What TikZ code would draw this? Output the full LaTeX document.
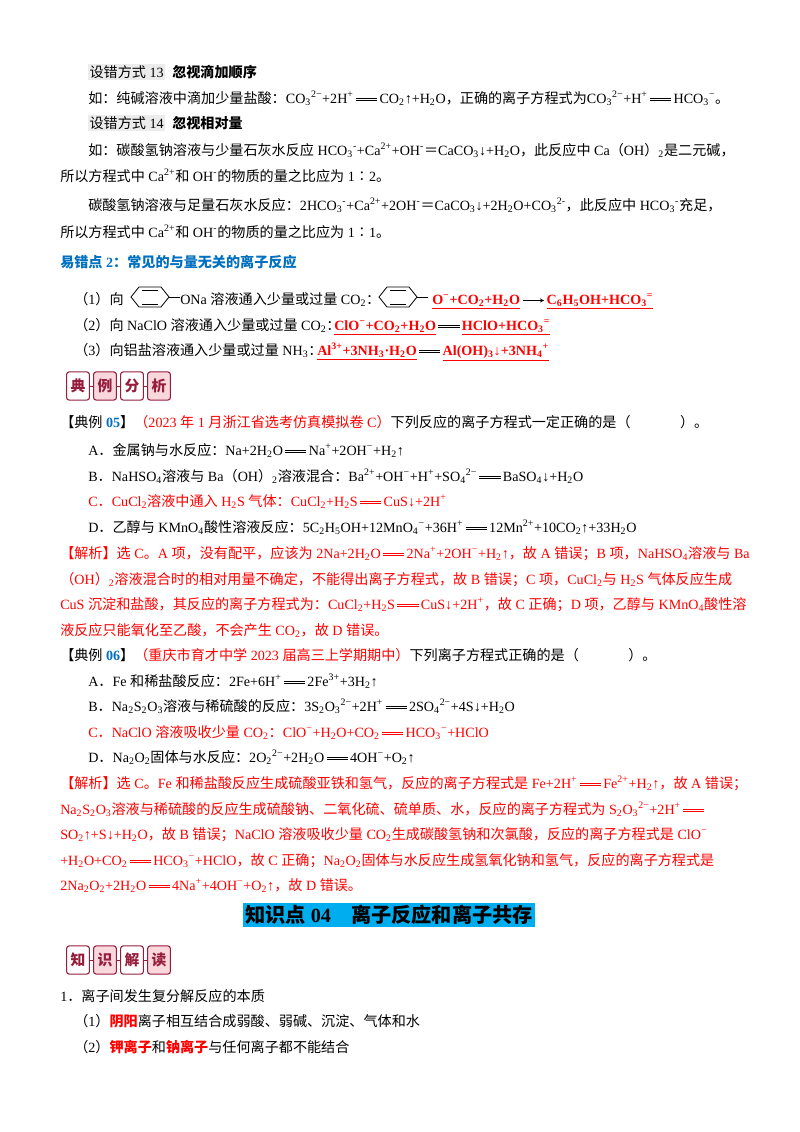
\documentclass[tikz,border=0pt]{standalone}
\usepackage{fontspec}
\setmainfont{Liberation Serif}
\newfontfamily\cjk{Noto Sans CJK SC}
\XeTeXinterchartokenstate=1
\newXeTeXintercharclass\cjkcls
\makeatletter
\count@="4E00 \loop\ifnum\count@<"A000 \XeTeXcharclass\count@=\cjkcls \advance\count@ 1 \repeat
\count@="3000 \loop\ifnum\count@<"3040 \XeTeXcharclass\count@=\cjkcls \advance\count@ 1 \repeat
\count@="FF00 \loop\ifnum\count@<"FFF0 \XeTeXcharclass\count@=\cjkcls \advance\count@ 1 \repeat
\XeTeXcharclass"2236=\cjkcls
\makeatother
\XeTeXinterchartoks 0 \cjkcls = {\begingroup\cjk}
\XeTeXinterchartoks 4095 \cjkcls = {\begingroup\cjk}
\XeTeXinterchartoks \cjkcls 0 = {\endgroup}
\XeTeXinterchartoks \cjkcls 4095 = {\endgroup}
\definecolor{hblue}{RGB}{0,112,192}
\definecolor{bdr}{RGB}{150,30,60}
\definecolor{bpink}{RGB}{250,215,220}
\newcommand\up[1]{\textsuperscript{#1}}
\newcommand\dn[1]{\textsubscript{#1}}
\newcommand\eqd{\,\raisebox{0.3ex}{\vbox{\hrule width1.5em height0.5pt\vskip1.5pt\hrule height0.5pt}}\,}
\tikzset{ln/.style={anchor=base west,inner sep=0pt,font=\fontsize{10.5}{12}\selectfont},
 badge/.style={draw=bdr,line width=0.8pt,rounded corners=2pt,minimum width=17pt,minimum height=21pt,inner sep=0pt,text=bdr,font=\fontsize{11}{12}\selectfont\bfseries}}
\begin{document}
\begin{tikzpicture}[x=0.744pt,y=-0.744pt]
\useasboundingbox[fill=white] (0,0) rectangle (800,1132);
\node[ln,fill=gray!15,inner sep=1pt] (h13) at (88,77) {设错方式 13};
\node[ln,font=\fontsize{10.5}{12}\selectfont\bfseries] (h13b) at (172,77) {忽视滴加顺序};
\node[ln] (l1) at (88,103) {如：纯碱溶液中滴加少量盐酸：CO\dn{3}\up{2−}+2H\up{+}\eqd CO\dn{2}↑+H\dn{2}O，正确的离子方程式为CO\dn{3}\up{2−}+H\up{+}\eqd HCO\dn{3}\up{−}。};
\node[ln,fill=gray!15,inner sep=1pt] (h14) at (88,128) {设错方式 14};
\node[ln,font=\fontsize{10.5}{12}\selectfont\bfseries] (h14b) at (172,128) {忽视相对量};
\node[ln] (l2) at (88,155) {如：碳酸氢钠溶液与少量石灰水反应 HCO\dn{3}\up{-}+Ca\up{2+}+OH\up{-}＝CaCO\dn{3}↓+H\dn{2}O，此反应中 Ca（OH）\dn{2}是二元碱，};
\node[ln] (l3) at (60,181) {所以方程式中 Ca\up{2+}和 OH\up{-}的物质的量之比应为 1∶2。};
\node[ln] (l4) at (88,210) {碳酸氢钠溶液与足量石灰水反应：2HCO\dn{3}\up{-}+Ca\up{2+}+2OH\up{-}＝CaCO\dn{3}↓+2H\dn{2}O+CO\dn{3}\up{2-}，此反应中 HCO\dn{3}\up{-}充足，};
\node[ln] (l5) at (60,237) {所以方程式中 Ca\up{2+}和 OH\up{-}的物质的量之比应为 1∶1。};
\node[ln,text=hblue,font=\fontsize{10.5}{12}\selectfont\bfseries] (e2) at (60,267) {易错点 2：常见的与量无关的离子反应};
% benzene rings
\foreach \cx in {150,398}{
 \draw[line width=0.6pt] (\cx-19,297) -- (\cx-11,287) -- (\cx+11,287) -- (\cx+19,297) -- (\cx+11,307) -- (\cx-11,307) -- cycle;
 \draw[line width=0.6pt] (\cx-8,290) -- (\cx+8,290) (\cx-8,304) -- (\cx+8,304) (\cx+19,297) -- (\cx+30,297);
}
\node[ln] (p1a) at (74,304) {（1）向};
\node[ln] (p1b) at (180,304) {ONa 溶液通入少量或过量 CO\dn{2}：};
\node[ln,text=red,font=\fontsize{10.5}{12}\selectfont\bfseries] (p1c) at (432,304) {\underline{O\up{−}+CO\dn{2}+H\dn{2}O}\,\raisebox{0.5ex}{\tikz\draw[-stealth,black,thin](0,0)--(16pt,0);}\,\underline{C\dn{6}H\dn{5}OH+HCO\dn{3}\up{=}}};
\node[ln] (p2a) at (74,330) {（2）向 NaClO 溶液通入少量或过量 CO\dn{2}：};
\node[ln,text=red,font=\fontsize{10.5}{12}\selectfont\bfseries] (p2b) at (334,330) {\underline{ClO\up{−}+CO\dn{2}+H\dn{2}O}{\color{black}\eqd}\underline{HClO+HCO\dn{3}\up{=}}};
\node[ln] (p3a) at (74,355) {（3）向铝盐溶液通入少量或过量 NH\dn{3}：};
\node[ln,text=red,font=\fontsize{10.5}{12}\selectfont\bfseries] (p3b) at (317,355) {\underline{Al\up{3+}+3NH\dn{3}·H\dn{2}O}{\color{black}\eqd}\underline{Al(OH)\dn{3}↓+3NH\dn{4}\up{+}}};
% badges 1
\foreach \i/\t/\f in {0/典/white,1/例/bpink,2/分/white,3/析/bpink}{
 \node[badge,fill=\f] (b\i) at (78+\i*27,386) {\t};}
\draw[bdr] (b0) -- (b1) (b1) -- (b2) (b2) -- (b3);
\node[ln] (d5) at (60,427) {【典例 {\color{hblue}\bfseries 05}】{\color{red}（2023 年 1 月浙江省选考仿真模拟卷 C）}下列反应的离子方程式一定正确的是（\hspace{3.5em}）。};
\node[ln] (d5a) at (88,455) {A．金属钠与水反应：Na+2H\dn{2}O\eqd Na\up{+}+2OH\up{−}+H\dn{2}↑};
\node[ln] (d5b) at (88,481) {B．NaHSO\dn{4}溶液与 Ba（OH）\dn{2}溶液混合：Ba\up{2+}+OH\up{−}+H\up{+}+SO\dn{4}\up{2−}\eqd BaSO\dn{4}↓+H\dn{2}O};
\node[ln,text=red] (d5c) at (88,506) {C．CuCl\dn{2}溶液中通入 H\dn{2}S 气体：CuCl\dn{2}+H\dn{2}S\eqd CuS↓+2H\up{+}};
\node[ln] (d5d) at (88,532) {D．乙醇与 KMnO\dn{4}酸性溶液反应：5C\dn{2}H\dn{5}OH+12MnO\dn{4}\up{−}+36H\up{+}\eqd 12Mn\up{2+}+10CO\dn{2}↑+33H\dn{2}O};
\node[ln,text=red] (j5a) at (60,558) {【解析】选 C。A 项，没有配平，应该为 2Na+2H\dn{2}O\eqd 2Na\up{+}+2OH\up{−}+H\dn{2}↑，故 A 错误；B 项，NaHSO\dn{4}溶液与 Ba};
\node[ln,text=red] (j5b) at (60,584) {（OH）\dn{2}溶液混合时的相对用量不确定，不能得出离子方程式，故 B 错误；C 项，CuCl\dn{2}与 H\dn{2}S 气体反应生成};
\node[ln,text=red] (j5c) at (60,609) {CuS 沉淀和盐酸，其反应的离子方程式为：CuCl\dn{2}+H\dn{2}S\eqd CuS↓+2H\up{+}，故 C 正确；D 项，乙醇与 KMnO\dn{4}酸性溶};
\node[ln,text=red] (j5d) at (60,635) {液反应只能氧化至乙酸，不会产生 CO\dn{2}，故 D 错误。};
\node[ln] (d6) at (60,660) {【典例 {\color{hblue}\bfseries 06}】{\color{red}（重庆市育才中学 2023 届高三上学期期中）}下列离子方程式正确的是（\hspace{3.5em}）。};
\node[ln] (d6a) at (88,686) {A．Fe 和稀盐酸反应：2Fe+6H\up{+}\eqd 2Fe\up{3+}+3H\dn{2}↑};
\node[ln] (d6b) at (88,711) {B．Na\dn{2}S\dn{2}O\dn{3}溶液与稀硫酸的反应：3S\dn{2}O\dn{3}\up{2−}+2H\up{+}\eqd 2SO\dn{4}\up{2−}+4S↓+H\dn{2}O};
\node[ln,text=red] (d6c) at (88,737) {C．NaClO 溶液吸收少量 CO\dn{2}：ClO\up{−}+H\dn{2}O+CO\dn{2}\eqd HCO\dn{3}\up{−}+HClO};
\node[ln] (d6d) at (88,762) {D．Na\dn{2}O\dn{2}固体与水反应：2O\dn{2}\up{2−}+2H\dn{2}O\eqd 4OH\up{−}+O\dn{2}↑};
\node[ln,text=red] (j6a) at (60,788) {【解析】选 C。Fe 和稀盐酸反应生成硫酸亚铁和氢气，反应的离子方程式是 Fe+2H\up{+}\eqd Fe\up{2+}+H\dn{2}↑，故 A 错误；};
\node[ln,text=red] (j6b) at (60,814) {Na\dn{2}S\dn{2}O\dn{3}溶液与稀硫酸的反应生成硫酸钠、二氧化硫、硫单质、水，反应的离子方程式为 S\dn{2}O\dn{3}\up{2−}+2H\up{+}\eqd};
\node[ln,text=red] (j6c) at (60,839) {SO\dn{2}↑+S↓+H\dn{2}O，故 B 错误；NaClO 溶液吸收少量 CO\dn{2}生成碳酸氢钠和次氯酸，反应的离子方程式是 ClO\up{−}};
\node[ln,text=red] (j6d) at (60,865) {+H\dn{2}O+CO\dn{2}\eqd HCO\dn{3}\up{−}+HClO，故 C 正确；Na\dn{2}O\dn{2}固体与水反应生成氢氧化钠和氢气，反应的离子方程式是};
\node[ln,text=red] (j6e) at (60,890) {2Na\dn{2}O\dn{2}+2H\dn{2}O\eqd 4Na\up{+}+4OH\up{−}+O\dn{2}↑，故 D 错误。};
\node[fill=cyan,inner sep=1.5pt,font=\fontsize{15}{16}\selectfont\bfseries] (title) at (389,915) {知识点 04\quad 离子反应和离子共存};
\foreach \i/\t/\f in {0/知/white,1/识/bpink,2/解/white,3/读/bpink}{
 \node[badge,fill=\f] (k\i) at (78+\i*27,960) {\t};}
\draw[bdr] (k0) -- (k1) (k1) -- (k2) (k2) -- (k3);
\node[ln] (n1) at (60,1001) {1．离子间发生复分解反应的本质};
\node[ln] (n2) at (74,1026) {（1）{\color{red}\bfseries 阴阳}离子相互结合成弱酸、弱碱、沉淀、气体和水};
\node[ln] (n3) at (74,1052) {（2）{\color{red}\bfseries 钾离子}和{\color{red}\bfseries 钠离子}与任何离子都不能结合};
\end{tikzpicture}
\end{document}
